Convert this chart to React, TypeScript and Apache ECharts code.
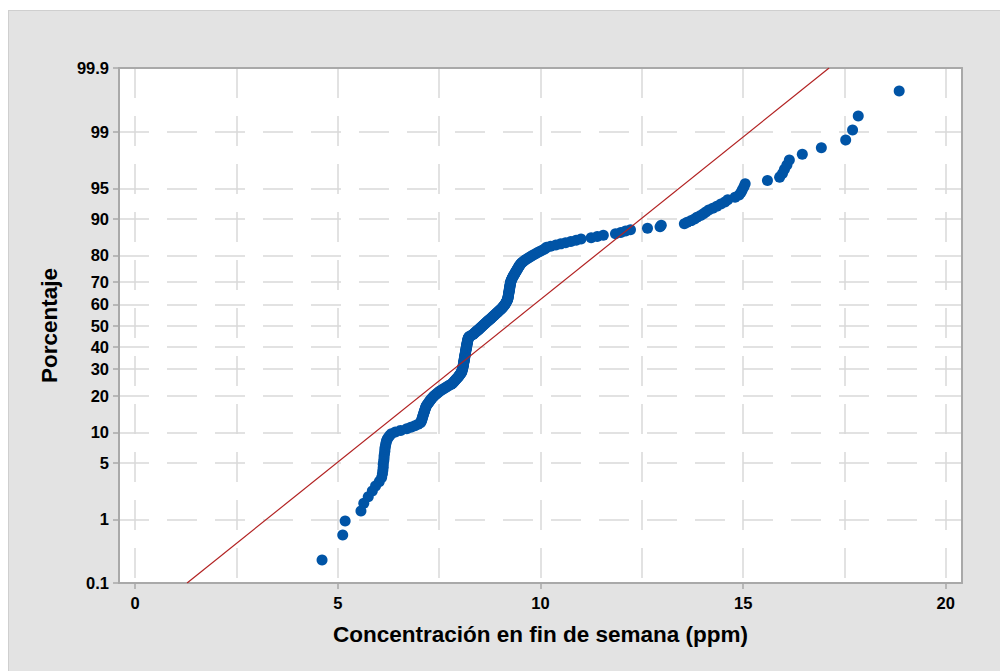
import React, { useEffect, useRef } from "react";
import * as echarts from "echarts";

// Sorted weekend concentrations (ppm)
const concentrations: number[] = [
  4.61, 5.12, 5.18, 5.57, 5.64, 5.75, 5.85, 5.93, 6.02, 6.08,
  6.10, 6.11, 6.12, 6.12, 6.13, 6.14, 6.14, 6.15, 6.16, 6.16,
  6.17, 6.18, 6.19, 6.20, 6.22, 6.25, 6.28, 6.32, 6.42, 6.55,
  6.70, 6.80, 6.90, 6.98, 7.04, 7.06, 7.07, 7.08, 7.09, 7.10,
  7.11, 7.12, 7.13, 7.14, 7.15, 7.16, 7.17, 7.18, 7.20, 7.22,
  7.24, 7.26, 7.28, 7.30, 7.32, 7.35, 7.37, 7.40, 7.43, 7.46,
  7.49, 7.52, 7.56, 7.60, 7.64, 7.68, 7.72, 7.76, 7.80, 7.83,
  7.85, 7.87, 7.89, 7.91, 7.93, 7.95, 7.97, 7.99, 8.00, 8.02,
  8.03, 8.05, 8.06, 8.06, 8.07, 8.07, 8.08, 8.08, 8.09, 8.09,
  8.10, 8.10, 8.10, 8.11, 8.11, 8.11, 8.12, 8.12, 8.12, 8.13,
  8.13, 8.13, 8.14, 8.14, 8.14, 8.15, 8.15, 8.15, 8.16, 8.16,
  8.16, 8.17, 8.17, 8.17, 8.18, 8.18, 8.18, 8.19, 8.19, 8.19,
  8.20, 8.20, 8.21, 8.21, 8.21, 8.22, 8.23, 8.24, 8.28, 8.31,
  8.34, 8.36, 8.38, 8.40, 8.42, 8.44, 8.46, 8.48, 8.50, 8.52,
  8.54, 8.56, 8.58, 8.60, 8.62, 8.64, 8.66, 8.68, 8.70, 8.72,
  8.74, 8.76, 8.78, 8.80, 8.82, 8.84, 8.86, 8.88, 8.90, 8.92,
  8.94, 8.96, 8.98, 9.00, 9.02, 9.04, 9.06, 9.07, 9.09, 9.10,
  9.12, 9.13, 9.14, 9.15, 9.16, 9.17, 9.18, 9.19, 9.19, 9.20,
  9.20, 9.20, 9.21, 9.21, 9.21, 9.22, 9.22, 9.22, 9.23, 9.23,
  9.23, 9.24, 9.24, 9.24, 9.25, 9.25, 9.25, 9.26, 9.26, 9.27,
  9.27, 9.28, 9.29, 9.30, 9.31, 9.32, 9.33, 9.35, 9.36, 9.37,
  9.38, 9.40, 9.41, 9.42, 9.44, 9.45, 9.46, 9.48, 9.49, 9.51,
  9.53, 9.56, 9.59, 9.62, 9.66, 9.70, 9.74, 9.78, 9.82, 9.87,
  9.92, 9.97, 10.02, 10.08, 10.12, 10.15, 10.25, 10.38, 10.50, 10.62,
  10.75, 10.88, 11.00, 11.25, 11.40, 11.55, 11.85, 11.98, 12.10, 12.22,
  12.64, 12.95, 12.98, 13.55, 13.62, 13.72, 13.80, 13.86, 13.95, 14.02,
  14.08, 14.15, 14.25, 14.35, 14.45, 14.55, 14.62, 14.80, 14.90, 14.95,
  14.98, 15.02, 15.05, 15.60, 15.90, 15.97, 16.02, 16.08, 16.14, 16.46,
  16.93, 17.53, 17.70, 17.84, 18.85,
];

const percentTicks: number[] = [0.1, 1, 5, 10, 20, 30, 40, 50, 60, 70, 80, 90, 95, 99, 99.9];
const xLabelTicks: number[] = [0, 5, 10, 15, 20];
const xGridTicks: number[] = [0, 2.5, 5, 7.5, 10, 12.5, 15, 17.5, 20];

// Fitted normal line (mean, standard deviation)
const fitMean = 9.2;
const fitSd = 2.563;

const xTitle = "Concentración en fin de semana (ppm)";
const yTitle = "Porcentaje";

function normInv(p: number): number {
  const a = [-3.969683028665376e1, 2.209460984245205e2, -2.759285104469687e2, 1.38357751867269e2, -3.066479806614716e1, 2.506628277459239];
  const b = [-5.447609879822406e1, 1.615858368580409e2, -1.556989798598866e2, 6.680131188771972e1, -1.328068155288572e1];
  const c = [-7.784894002430293e-3, -3.223964580411365e-1, -2.400758277161838, -2.549732539343734, 4.374664141464968, 2.938163982698783];
  const d = [7.784695709041462e-3, 3.224671290700398e-1, 2.445134137142996, 3.754408661907416];
  const plow = 0.02425;
  const phigh = 1 - plow;
  if (p < plow) {
    const q = Math.sqrt(-2 * Math.log(p));
    return (((((c[0] * q + c[1]) * q + c[2]) * q + c[3]) * q + c[4]) * q + c[5]) /
      ((((d[0] * q + d[1]) * q + d[2]) * q + d[3]) * q + 1);
  }
  if (p <= phigh) {
    const q = p - 0.5;
    const r = q * q;
    return ((((((a[0] * r + a[1]) * r + a[2]) * r + a[3]) * r + a[4]) * r + a[5]) * q) /
      (((((b[0] * r + b[1]) * r + b[2]) * r + b[3]) * r + b[4]) * r + 1);
  }
  const q = Math.sqrt(-2 * Math.log(1 - p));
  return -(((((c[0] * q + c[1]) * q + c[2]) * q + c[3]) * q + c[4]) * q + c[5]) /
    ((((d[0] * q + d[1]) * q + d[2]) * q + d[3]) * q + 1);
}

export default function App() {
  const ref = useRef<HTMLDivElement>(null);

  useEffect(() => {
    if (!ref.current) return;
    const chart = echarts.init(ref.current, undefined, { renderer: "svg" });

    const n = concentrations.length;
    const zOf = (pct: number) => normInv(pct / 100);
    const tickZs = percentTicks.map(zOf);
    const innerZs = tickZs.slice(1, tickZs.length - 1);
    const zMin = tickZs[0];
    const zMax = tickZs[tickZs.length - 1];

    const points = concentrations.map((x, i) => [x, normInv((i + 1 - 0.3) / (n + 0.4))]);
    const fitLine = [
      [fitMean + fitSd * zMin, zMin],
      [fitMean + fitSd * zMax, zMax],
    ];

    const axisGray = "#a9a9a9";
    const gridGray = "#d9d9d9";
    const labelFont = {
      color: "#000",
      fontFamily: "Liberation Sans, Arial, sans-serif",
      fontWeight: "bold" as const,
      fontSize: 16.5,
    };
    const titleFont = {
      color: "#000",
      fontFamily: "Liberation Sans, Arial, sans-serif",
      fontWeight: "bold" as const,
      fontSize: 22.5,
    };

    const yFormatter = (v: number) => {
      let best = percentTicks[0];
      let bestD = Infinity;
      percentTicks.forEach((p) => {
        const dd = Math.abs(zOf(p) - v);
        if (dd < bestD) {
          bestD = dd;
          best = p;
        }
      });
      return String(best);
    };

    chart.setOption({
      animation: false,
      backgroundColor: "transparent",
      grid: {
        left: 119,
        top: 68,
        width: 843,
        height: 515,
        show: true,
        backgroundColor: "#ffffff",
        borderWidth: 0,
      },
      xAxis: [
        {
          type: "value",
          position: "bottom",
          min: -0.4,
          max: 20.4,
          axisLine: { show: true, onZero: false, lineStyle: { color: axisGray, width: 2 } },
          axisTick: { show: true, customValues: xLabelTicks, length: 6, lineStyle: { color: axisGray, width: 1.5 } },
          axisLabel: { customValues: xLabelTicks, margin: 11, showMinLabel: true, showMaxLabel: true, ...labelFont },
          splitLine: { show: false },
          name: xTitle,
          nameLocation: "middle",
          nameGap: 40,
          nameTextStyle: titleFont,
        },
        {
          type: "value",
          position: "top",
          min: -0.4,
          max: 20.4,
          axisLine: { show: true, onZero: false, lineStyle: { color: axisGray, width: 2 } },
          axisTick: { show: false, customValues: xGridTicks },
          axisLabel: { show: false },
          splitLine: { show: true, lineStyle: { color: gridGray, width: 1.5, type: [30, 18] } },
        },
      ],
      yAxis: [
        {
          type: "value",
          position: "left",
          min: zMin,
          max: zMax,
          axisLine: { show: true, onZero: false, lineStyle: { color: axisGray, width: 2 } },
          axisTick: { show: true, customValues: tickZs, length: 6, lineStyle: { color: axisGray, width: 1.5 } },
          axisLabel: { customValues: tickZs, formatter: yFormatter, margin: 10, showMinLabel: true, showMaxLabel: true, ...labelFont },
          splitLine: { show: false },
          name: yTitle,
          nameLocation: "middle",
          nameGap: 58,
          nameTextStyle: titleFont,
        },
        {
          type: "value",
          position: "right",
          min: zMin,
          max: zMax,
          axisLine: { show: true, onZero: false, lineStyle: { color: axisGray, width: 2 } },
          axisTick: { show: false, customValues: innerZs },
          axisLabel: { show: false },
          splitLine: { show: true, lineStyle: { color: gridGray, width: 1.5, type: [30, 18] } },
        },
      ],
      series: [
        {
          type: "scatter",
          xAxisIndex: 0,
          yAxisIndex: 0,
          data: points,
          symbol: "circle",
          symbolSize: 11,
          itemStyle: { color: "#0054a6", opacity: 1 },
          z: 3,
        },
        {
          type: "line",
          xAxisIndex: 0,
          yAxisIndex: 0,
          data: fitLine,
          symbol: "none",
          lineStyle: { color: "#b22222", width: 1.2 },
          clip: true,
          z: 4,
        },
      ],
    });

    return () => chart.dispose();
  }, []);

  return (
    <div style={{ position: "fixed", left: 0, top: 0, width: 1000, height: 671, background: "#ffffff", overflow: "hidden" }}>
      <div
        style={{
          position: "absolute",
          left: 8,
          top: 10,
          right: 0,
          bottom: 0,
          background: "#e3e3e3",
          borderTop: "1px solid #cfcfcf",
          borderLeft: "1px solid #cfcfcf",
        }}
      />
      <div ref={ref} style={{ position: "absolute", left: 0, top: 0, width: 1000, height: 671 }} />
    </div>
  );
}
